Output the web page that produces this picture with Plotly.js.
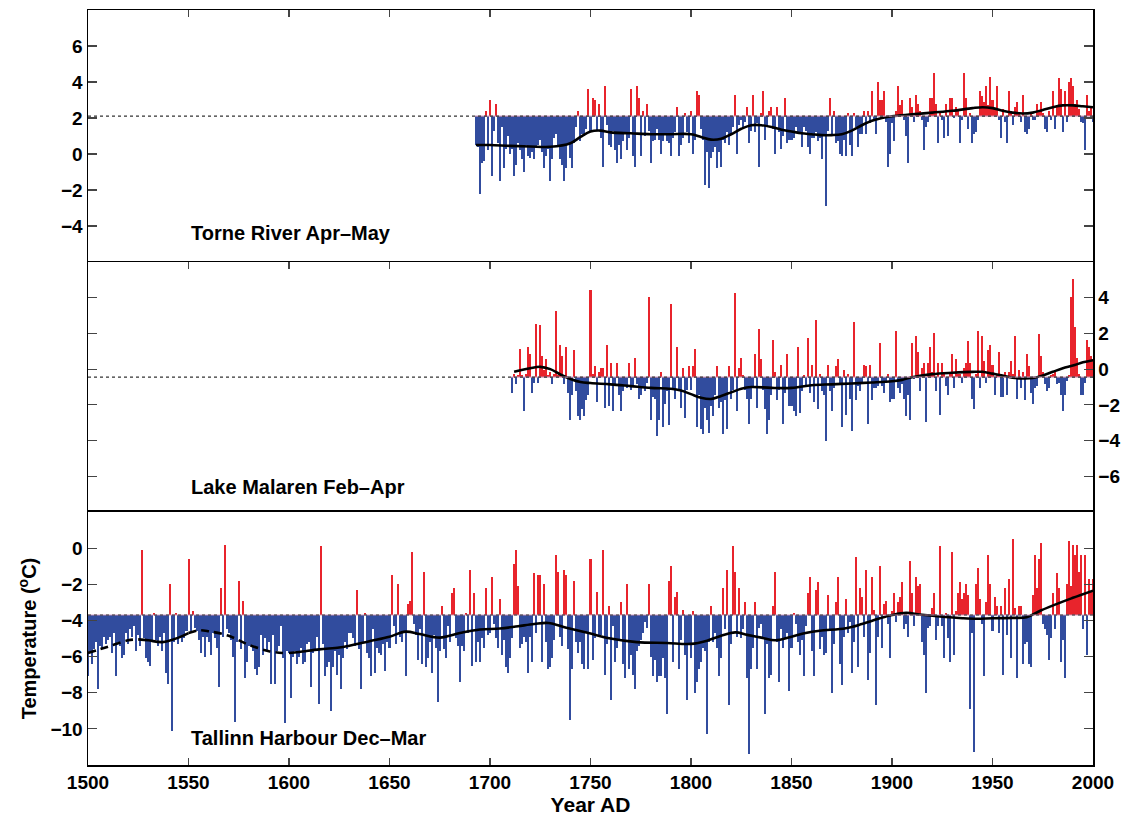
<!DOCTYPE html>
<html>
<head>
<meta charset="utf-8">
<script src="https://cdn.plot.ly/plotly-3.0.1.min.js"></script>
<style>html,body{margin:0;padding:0;background:#fff}#chart{width:1126px;height:818px}</style>
</head>
<body>
<div id="chart"></div>
<script>
// ---------------- DATA ----------------
// Torne River Apr–May: yearly anomalies (°C) relative to the series mean
const torneStart = 1693;
const torneMean = 2.1;
const torneAnom = [
  -1.6,-1.7,-4.3,-2.6,-2.5,0.3,-1.9,
  0.9,-3.3,-0.8,0.7,-1.5,-3.6,-0.6,-2.9,-1.8,-1.1,
  -2.1,-1.8,-3.3,-2.7,-1.5,-1.9,-2.4,-3.1,-1.6,-2.2,
  -2.3,-2.0,-2.4,-1.7,-1.6,-1.3,-2.0,-2.9,-2.2,-1.8,
  -3.6,-2.4,-1.2,-1.0,-1.6,-2.4,-2.7,-3.6,-2.9,-1.5,
  -2.3,-2.9,-1.5,-0.6,0.3,-1.4,-1.0,-1.1,-0.7,1.5,
  -0.9,1.0,0.9,-0.8,0.7,-1.2,-2.8,1.7,-0.5,-1.6,
  -1.7,-0.8,-1.9,-2.6,-1.6,-2.4,-1.4,-0.9,-1.9,-1.2,
  1.5,-2.2,-2.8,1.7,1.0,-2.2,0.3,-1.1,0.7,-0.8,
  -2.6,-1.4,-1.3,-0.7,-1.3,-2.1,-1.4,-1.0,-1.4,-1.5,
  -2.2,-1.2,-0.9,0.5,-2.2,-1.6,-1.2,0.2,-0.9,-1.5,
  0.3,-2.1,-1.3,1.4,1.2,-0.7,-1.3,-3.8,-2.0,-4.0,
  -2.3,-2.0,-1.7,-2.9,-2.0,-2.8,-1.3,-1.5,-0.9,-1.6,
  -1.0,-0.6,1.2,-2.1,-0.5,-0.2,-0.6,-0.3,0.5,-1.5,
  -0.8,1.2,-0.9,-0.4,-2.8,0.2,1.4,-1.3,-0.5,0.3,
  0.5,-0.7,-2.1,0.5,-0.9,-1.8,-1.1,1.0,-1.5,-1.3,
  -1.3,-1.2,-0.6,-0.9,-0.9,-1.7,-0.6,-0.8,-1.7,-2.1,
  -1.2,-1.2,-0.9,-1.4,-1.2,-2.4,-1.0,-5.0,-0.8,1.0,
  -1.1,0.3,-1.5,-1.4,-2.1,-2.2,-1.3,-2.2,0.2,-1.6,
  -2.2,0.2,-0.6,-1.7,-1.0,-1.0,0.3,-1.0,0.3,-0.4,
  1.4,-0.2,-1.0,1.9,0.9,0.9,1.4,-0.3,-2.8,-2.1,
  -0.4,-1.4,0.3,1.7,0.6,0.9,-0.2,-1.1,-2.6,1.0,
  0.5,-0.3,1.2,0.7,0.3,-0.2,-1.9,-0.6,-0.3,1.0,
  1.0,2.4,0.7,-1.5,0.3,-0.2,-1.2,0.7,-1.1,1.0,
  1.0,-0.1,0.5,0.3,-1.5,-0.2,2.4,1.0,-0.7,0.2,
  -1.5,-1.0,-0.9,-0.2,1.4,1.1,0.8,1.7,0.6,2.2,
  0.9,0.4,1.7,-0.2,-1.2,0.4,-0.3,-1.5,1.4,0.3,
  -0.5,0.5,0.8,0.2,-0.3,1.2,-0.9,-1.0,-0.7,0.2,
  -0.2,-0.2,0.7,0.3,0.8,0.2,-0.7,-0.9,0.3,-0.2,
  1.4,-0.7,0.6,2.1,1.5,-0.9,1.4,-0.3,1.9,2.1,
  1.7,0.7,0.9,0.4,-0.3,-0.4,-1.9,1.2,0.3,0.5,
  -0.3
];
const torneSmoothYears = [1693,1700,1710,1720,1730,1740,1745,1750,1755,1760,1770,1780,1790,1800,1805,1810,1815,1820,1825,1830,1835,1840,1845,1850,1855,1860,1865,1870,1875,1880,1885,1890,1895,1900,1910,1920,1930,1940,1945,1950,1955,1960,1965,1970,1975,1980,1985,1990,1995,2000];
const torneSmooth = [0.5,0.5,0.45,0.42,0.4,0.6,0.95,1.25,1.3,1.2,1.15,1.1,1.1,1.1,0.95,0.8,0.85,1.1,1.4,1.6,1.6,1.5,1.35,1.25,1.15,1.1,1.05,1.05,1.1,1.3,1.6,1.85,2.0,2.1,2.2,2.3,2.4,2.55,2.6,2.55,2.4,2.3,2.25,2.3,2.45,2.6,2.7,2.7,2.65,2.6];

// Lake Malaren Feb–Apr
const malarenStart = 1711;
const malarenMean = -0.45;
const malarenAnom = [
  -0.9,0.2,-0.4,0.1,1.6,0.1,-1.9,0.2,1.7,
  1.3,-0.9,-0.3,3.0,-0.3,2.9,1.2,0.4,1.0,0.1,
  0.3,-0.4,0.2,3.7,0.1,1.8,1.2,-0.4,1.7,-0.9,
  -2.4,-1.0,1.5,-0.8,-2.2,-2.4,-1.8,-2.2,-1.3,-1.0,
  4.9,0.2,0.6,-1.4,0.3,0.5,0.5,-1.7,1.8,-1.6,
  0.8,-1.9,-0.5,0.8,-1.0,-1.9,-0.8,-0.5,-0.6,0.8,
  -0.7,-0.5,1.1,-0.4,-1.2,-1.0,-0.6,-0.8,-0.3,4.5,
  -2.4,-1.1,-1.2,-3.3,-2.4,0.3,-2.8,-1.5,-0.8,-2.7,
  4.1,-0.6,-1.2,1.7,-0.8,-1.7,0.5,-2.3,-0.7,0.6,
  -0.7,0.6,1.6,-2.8,-1.0,-2.9,-3.2,-1.7,-2.4,-3.1,
  -1.6,-2.2,-1.0,0.6,-1.7,-1.4,-3.2,-1.3,-2.9,0.6,
  -1.2,-0.7,4.7,-1.9,0.5,1.1,0.1,-0.7,-1.2,-2.6,
  -1.2,-0.5,1.3,-1.7,2.7,1.0,-0.7,-1.8,-3.2,-2.4,
  -1.0,2.1,0.3,-1.3,-0.7,0.7,-2.6,-0.9,1.3,-1.6,
  -1.6,-1.9,-2.2,1.7,-2.0,-0.8,0.1,-0.5,2.2,-0.9,
  0.7,-1.4,3.2,-1.8,0.2,-0.8,-1.0,-3.6,0.7,-0.8,
  -1.9,-0.6,0.6,1.0,-0.4,-2.8,0.4,-2.1,0.2,-1.2,
  -3.0,3.1,-1.3,-0.5,-0.8,-0.4,0.7,0.6,-2.6,0.7,
  -1.3,-0.6,-0.6,-0.5,1.9,-0.5,-0.9,-0.3,0.2,-1.4,
  -1.2,-1.2,2.6,-0.6,-0.9,-0.4,-1.2,-2.2,-1.0,-2.4,
  1.9,-0.1,2.3,1.4,-0.8,0.5,0.8,-2.5,0.8,1.7,
  0.3,2.5,-0.8,0.8,-2.1,0.8,0.3,-0.5,-1.0,0.2,
  1.3,-0.6,1.0,0.2,0.2,-0.3,0.5,0.8,2.0,0.8,
  -1.2,-1.8,0.2,2.6,-0.6,2.3,0.9,-0.3,1.5,1.8,
  0.7,-1.0,0.2,1.4,-1.1,-1.1,0.3,-1.0,0.3,0.9,
  0.2,2.3,-1.2,0.4,-0.6,0.3,-1.3,1.3,0.6,-0.9,
  -1.5,-0.6,-0.5,2.4,1.2,0.3,-0.4,-0.8,-0.6,0.1,
  0.2,0.3,-0.4,-0.3,-1.0,-1.9,-1.0,-0.2,0.1,4.5,
  5.5,2.8,1.1,0.2,-1.0,-1.0,-0.3,2.1,1.7,1.2,
  1.0
];
const malarenSmoothYears = [1712,1720,1725,1730,1735,1740,1745,1750,1760,1770,1780,1790,1795,1800,1805,1810,1815,1820,1825,1830,1840,1850,1860,1870,1880,1890,1900,1905,1910,1920,1930,1940,1945,1950,1955,1960,1965,1970,1975,1980,1985,1990,1995,2000];
const malarenSmooth = [-0.15,0.05,0.13,0.0,-0.3,-0.55,-0.72,-0.78,-0.85,-0.95,-1.05,-1.1,-1.2,-1.4,-1.6,-1.67,-1.5,-1.3,-1.1,-1.0,-1.05,-1.05,-0.9,-0.85,-0.8,-0.75,-0.68,-0.6,-0.45,-0.28,-0.2,-0.15,-0.15,-0.25,-0.35,-0.48,-0.52,-0.5,-0.35,-0.15,0.05,0.2,0.38,0.5];

// Tallinn Harbour Dec–Mar
const tallinnStart = 1500;
const tallinnMean = -3.7;
const tallinnAnom = [
  -3.4,-2.0,-2.7,-1.9,-1.5,-4.1,-1.7,-1.8,-1.2,-1.6,
  -1.4,-1.2,-2.1,-1.0,-3.4,-1.5,-1.7,-2.4,-2.2,-1.0,
  -1.6,-0.8,-1.2,-0.6,-2.0,-1.1,-1.7,3.6,-1.3,-2.4,
  -2.6,-2.8,-1.5,0.1,-1.4,-1.7,-1.2,-2.0,-1.0,-3.2,
  -3.8,1.7,-6.4,-1.5,0.1,-1.6,-1.2,-1.5,-1.3,-0.9,
  3.1,-0.9,0.2,-0.7,-0.9,-1.4,-2.1,-1.2,-2.3,-1.2,
  -1.5,-2.2,-1.0,-1.3,-1.8,-4.0,1.5,-1.2,3.9,-0.8,
  -1.0,-1.4,-2.3,-5.9,-1.5,1.9,-1.9,0.8,-3.5,-2.6,
  -1.7,-1.7,-2.0,-3.0,-3.3,-2.9,-1.1,-2.2,-1.3,-2.0,
  -1.5,-3.8,-1.1,-3.8,-2.0,-1.7,-0.6,-2.4,-6.0,-2.0,
  -2.1,-4.6,-2.3,-2.0,-2.7,-2.3,-1.8,-2.7,-2.6,-1.6,
  -1.5,-4.0,-2.1,-1.9,-1.2,-4.9,3.8,-1.6,-3.4,-2.9,
  -2.6,-5.3,-2.9,-2.0,-3.3,-2.2,-4.1,-2.4,-1.5,-1.9,
  -1.0,-1.0,-1.3,-1.7,1.4,-1.9,-4.1,-1.5,0.1,-2.1,
  -2.4,-3.4,-0.8,-3.2,-1.8,-2.1,-2.2,-1.6,-3.1,-1.5,
  -1.8,2.2,-0.6,-1.6,1.7,-1.2,-1.5,-1.0,-3.4,0.6,
  0.8,3.5,-0.5,-1.1,-2.5,-0.8,-2.7,2.4,-2.9,-2.4,
  -1.5,-3.2,-1.1,-1.8,-4.8,-2.0,0.5,-1.9,-2.4,-0.6,
  -1.5,1.2,1.5,-1.3,-1.7,-3.7,-1.7,-2.0,0.1,-1.0,
  2.5,-2.8,1.2,-2.6,-1.5,-2.6,-1.3,-1.8,1.5,-1.1,
  -1.0,2.1,-0.5,-1.3,-1.8,0.9,-2.2,-1.4,-2.9,-3.2,
  -2.4,-1.3,2.8,3.6,1.6,-1.8,-1.6,-1.2,-1.5,-3.2,
  -1.2,-2.6,2.3,-1.0,2.2,2.2,-2.6,1.7,-1.5,-3.0,
  -2.9,-2.4,-1.4,3.3,2.4,-1.2,-1.7,2.5,2.2,-1.9,
  -5.8,-3.0,1.9,-1.5,-2.1,-1.5,-2.7,-3.0,-1.0,-3.0,
  3.1,-2.5,-1.3,1.3,-1.2,-1.1,3.6,-3.3,-1.6,0.5,
  -4.7,-0.6,-2.6,-1.8,-1.4,0.7,-2.7,-3.5,1.7,-3.0,
  -2.2,-3.3,-4.1,-2.0,-1.7,-1.4,-1.0,-0.4,-0.7,1.7,
  -2.3,-3.4,-2.5,-3.7,-3.4,-3.4,-2.4,-3.5,-5.5,1.9,
  2.7,-2.6,1.0,1.3,-3.0,-1.4,0.3,-2.2,-4.7,-1.6,
  -2.4,0.2,-4.3,-3.7,-3.0,-2.6,-1.8,-2.0,-6.6,-1.5,
  0.5,-1.5,-1.0,-1.8,-3.4,-2.4,1.5,-0.8,2.5,-5.0,
  -1.6,3.8,2.4,-1.2,1.5,-1.3,-0.8,0.7,-3.5,-7.7,
  -3.0,-1.8,0.7,-3.0,-0.7,-0.5,-1.3,-5.5,-1.6,-3.5,
  -3.3,0.5,2.4,-1.5,-3.7,-0.8,-1.8,-1.3,-1.0,-4.2,
  -1.8,0.1,-0.5,-1.5,-2.2,-1.4,-3.4,-0.6,1.2,2.1,
  -2.0,-3.4,1.4,1.8,-1.9,-1.2,-2.2,-2.1,1.1,-0.8,
  -4.3,-1.6,0.7,2.1,-2.7,-3.9,-1.2,0.9,-1.0,-0.4,
  -3.2,-1.5,3.2,-2.9,1.5,1.0,-1.2,2.5,-3.6,-2.1,
  2.1,0.3,-5.0,-1.2,2.7,-1.8,0.6,0.8,-0.5,-2.4,
  0.2,1.2,-0.4,0.7,1.0,1.8,-0.8,-0.5,-1.2,3.0,
  1.2,-0.6,2.1,1.6,1.7,-1.5,-2.2,-4.3,-0.7,-0.6,
  0.4,1.2,-1.4,-0.6,3.8,-0.6,-2.4,0.1,-1.3,-2.6,
  3.5,-2.2,0.2,1.2,1.8,0.9,1.2,1.7,1.1,-5.2,
  -1.0,-7.6,1.7,2.6,0.9,-0.5,-3.4,0.7,3.3,1.7,
  -0.9,1.0,0.5,-1.0,0.5,-3.3,1.5,-1.1,2.0,-2.4,
  4.2,0.4,-3.5,0.5,0.5,-2.7,-1.6,-1.5,-2.7,-2.9,
  1.1,3.3,1.5,3.1,4.0,-0.5,-0.8,-1.1,-2.5,-1.3,
  1.2,-0.8,2.3,1.5,-2.6,-1.4,-3.5,1.7,4.1,1.6,
  3.9,3.3,3.9,2.4,3.3,-0.8,3.3,-2.2,2.0,1.3,
  2.0
];
const tallinnSmoothYears = [1500,1510,1520,1525,1530,1537,1545,1550,1555,1560,1570,1580,1590,1597,1600,1605,1615,1625,1630,1640,1650,1658,1665,1675,1685,1695,1705,1714,1722,1729,1738,1749,1760,1773,1788,1800,1808,1815,1822,1828,1835,1842,1850,1857,1864,1877,1885,1894,1900,1907,1915,1925,1935,1942,1950,1960,1967,1974,1984,1990,2000];
const tallinnSmooth = [-5.8,-5.45,-5.1,-5.05,-5.1,-5.2,-4.95,-4.7,-4.55,-4.6,-4.85,-5.35,-5.7,-5.8,-5.8,-5.75,-5.6,-5.5,-5.4,-5.15,-4.9,-4.62,-4.75,-4.95,-4.7,-4.5,-4.45,-4.32,-4.2,-4.14,-4.4,-4.7,-5.0,-5.2,-5.25,-5.3,-5.12,-4.85,-4.66,-4.8,-4.95,-5.1,-4.9,-4.7,-4.57,-4.43,-4.2,-3.88,-3.7,-3.58,-3.69,-3.8,-3.88,-3.91,-3.88,-3.86,-3.82,-3.45,-3.0,-2.75,-2.35];

const xTicks = [1500,1550,1600,1650,1700,1750,1800,1850,1900,1950,2000];
const panelLabels = ['Torne River Apr–May','Lake Malaren Feb–Apr','Tallinn Harbour Dec–Mar'];

// ---------------- DRAWING ----------------
const RED = 'rgb(232,36,44)';
const BLUE = 'rgb(49,76,158)';
const FONT = 'Liberation Sans, Arial, Helvetica, sans-serif';

function bars(start, anom, mean, xa, ya) {
  return {
    type: 'bar', x: anom.map((_, i) => start + i), y: anom, base: mean,
    marker: {color: anom.map(v => v >= 0 ? RED : BLUE), line: {width: 0}},
    xaxis: xa, yaxis: ya, hoverinfo: 'skip', showlegend: false
  };
}
function smooth(years, vals, xa, ya, y0, y1, dash) {
  const xs = [], ys = [];
  years.forEach((yr, i) => { if (yr >= y0 && yr <= y1) { xs.push(yr); ys.push(vals[i]); } });
  return {type: 'scatter', mode: 'lines', x: xs, y: ys, xaxis: xa, yaxis: ya,
    line: {color: '#000', width: 2.6, shape: 'spline', smoothing: 1, dash: dash || 'solid'},
    hoverinfo: 'skip', showlegend: false};
}

const traces = [
  bars(torneStart, torneAnom, torneMean, 'x3', 'y3'),
  smooth(torneSmoothYears, torneSmooth, 'x3', 'y3', 1600, 2000),
  bars(malarenStart, malarenAnom, malarenMean, 'x2', 'y2'),
  smooth(malarenSmoothYears, malarenSmooth, 'x2', 'y2', 1600, 2000),
  bars(tallinnStart, tallinnAnom, tallinnMean, 'x', 'y'),
  smooth(tallinnSmoothYears, tallinnSmooth, 'x', 'y', 1500, 1525, '8px,5px'),
  smooth(tallinnSmoothYears, tallinnSmooth, 'x', 'y', 1525, 1550),
  smooth(tallinnSmoothYears, tallinnSmooth, 'x', 'y', 1550, 1597, '8px,5px'),
  smooth(tallinnSmoothYears, tallinnSmooth, 'x', 'y', 1600, 2000)
];

const tickFont = {family: FONT, size: 19, color: '#000', weight: 'bold'};
const xBase = {
  range: [1500, 2000], tickvals: xTicks, ticks: 'inside', ticklen: 7, tickwidth: 1.2,
  showline: true, linecolor: '#000', linewidth: 1.5, showgrid: false, zeroline: false,
  tickfont: tickFont
};
const yBase = {
  ticks: 'inside', ticklen: 9, tickwidth: 1.2, showline: true, linecolor: '#000', linewidth: 1.5,
  mirror: 'ticks', showgrid: false, zeroline: false, tickfont: tickFont
};
const D1 = 0.3351, D2 = 0.6662;

function baseLines(xa, ya, start, mean) {
  return [
    {type: 'line', xref: xa, yref: ya, x0: start - 0.5, x1: 2000, y0: mean, y1: mean,
     line: {color: 'rgba(205,150,185,0.9)', width: 1.2}, layer: 'above'},
    {type: 'line', xref: xa, yref: ya, x0: 1500, x1: 2000, y0: mean, y1: mean,
     line: {color: '#333', width: 1.2, dash: 'dot'}, layer: 'above'}
  ];
}

const layout = {
  width: 1126, height: 818,
  margin: {l: 88, r: 33, t: 10, b: 53},
  paper_bgcolor: '#fff', plot_bgcolor: '#fff',
  bargap: 0,
  font: {family: FONT, color: '#000'},
  xaxis: Object.assign({}, xBase, {anchor: 'y', domain: [0, 1], mirror: true,
    title: {text: 'Year AD', font: {family: FONT, size: 21, weight: 'bold'}, standoff: 4}}),
  xaxis2: Object.assign({}, xBase, {anchor: 'y2', matches: 'x', side: 'top', mirror: false, showticklabels: false}),
  xaxis3: Object.assign({}, xBase, {anchor: 'y3', matches: 'x', side: 'top', mirror: false, showticklabels: false}),
  yaxis: Object.assign({}, yBase, {domain: [0, D1], range: [-12, 2], tickvals: [-10,-8,-6,-4,-2,0],
    title: {text: 'Temperature (<sup>o</sup>C)', font: {family: FONT, size: 20, weight: 'bold'}, standoff: 8}}),
  yaxis2: Object.assign({}, yBase, {domain: [D1, D2], range: [-8, 6], tickvals: [-6,-4,-2,0,2,4], side: 'right', anchor: 'x2'}),
  yaxis3: Object.assign({}, yBase, {domain: [D2, 1], range: [-6, 8], tickvals: [-4,-2,0,2,4,6], anchor: 'x3'}),
  shapes: [].concat(
    baseLines('x3', 'y3', torneStart, torneMean),
    baseLines('x2', 'y2', malarenStart, malarenMean),
    baseLines('x', 'y', tallinnStart, tallinnMean)
  ),
  annotations: [
    {text: panelLabels[0], xref: 'x3', yref: 'y3', x: 1550, y: -4.4, xanchor: 'left', yanchor: 'middle', showarrow: false,
     font: {family: FONT, size: 20, weight: 'bold', color: '#000'}},
    {text: panelLabels[1], xref: 'x2', yref: 'y2', x: 1550, y: -6.6, xanchor: 'left', yanchor: 'middle', showarrow: false,
     font: {family: FONT, size: 20, weight: 'bold', color: '#000'}},
    {text: panelLabels[2], xref: 'x', yref: 'y', x: 1550, y: -10.5, xanchor: 'left', yanchor: 'middle', showarrow: false,
     font: {family: FONT, size: 20, weight: 'bold', color: '#000'}}
  ]
};

Plotly.newPlot('chart', traces, layout, {displayModeBar: false, staticPlot: true});
</script>
</body>
</html>
